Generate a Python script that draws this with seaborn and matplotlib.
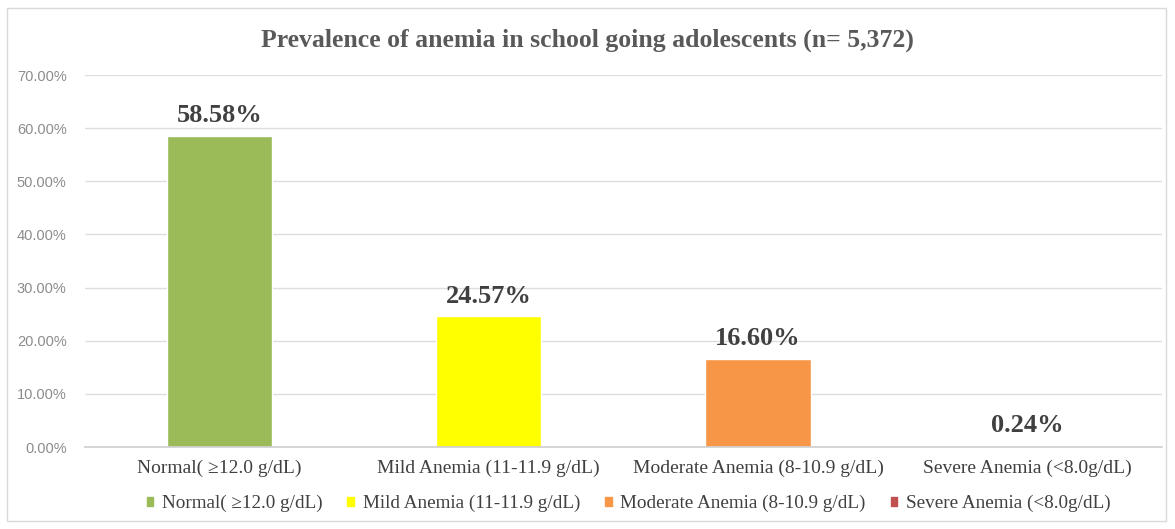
import matplotlib
matplotlib.use("Agg")
import matplotlib.pyplot as plt
import seaborn as sns
import pandas as pd
from matplotlib.patches import Rectangle
from matplotlib.ticker import FuncFormatter

categories = ["Normal( \u226512.0 g/dL)", "Mild Anemia (11-11.9 g/dL)",
              "Moderate Anemia (8-10.9 g/dL)", "Severe Anemia (<8.0g/dL)"]
values = [58.58, 24.57, 16.60, 0.24]
colors = ["#9BBB59", "#FFFF00", "#F79646", "#C0504D"]
title = "Prevalence of anemia in school going adolescents (n= 5,372)"

df = pd.DataFrame({"cat": categories, "val": values})

sns.set_theme(style="white")
plt.rcParams['font.family'] = ['Liberation Serif', 'DejaVu Serif']

fig = plt.figure(figsize=(11.75, 5.29), dpi=100)
ax = fig.add_axes([0.072, 0.155, 0.917, 0.703])

sns.barplot(data=df, x="cat", y="val", hue="cat", palette=colors,
            width=0.39, ax=ax, legend=False, saturation=1)

ax.set_ylim(0, 70)
ax.set_yticks(range(0, 71, 10))
ax.yaxis.set_major_formatter(FuncFormatter(lambda v, p: f"{v:.2f}%"))
for lab in ax.get_yticklabels():
    lab.set_fontfamily(['Liberation Sans', 'DejaVu Sans'])
    lab.set_fontsize(10.5)
    lab.set_color("#8c8c8c")
ax.tick_params(axis='y', length=0, pad=13)
ax.tick_params(axis='x', length=0, pad=9, labelsize=14, colors="#404040")
ax.grid(axis='y', color="#dedede", linewidth=1)
ax.set_axisbelow(True)
for s in ["top", "right", "left"]:
    ax.spines[s].set_visible(False)
ax.spines["bottom"].set_color("#d0d0d0")
ax.set_xlabel("")
ax.set_ylabel("")

for i, v in enumerate(values):
    ax.text(i, v + 1.6, f"{v:.2f}%", ha="center", va="bottom",
            fontsize=19, fontweight="bold", color="#404040")

fig.text(0.5, 0.924, title, ha="center", va="center", fontsize=18.5,
         fontweight="bold", color="#595959")

handles = [Rectangle((0, 0), 1, 1, color=c) for c in colors]
fig.legend(handles, categories, loc="center", bbox_to_anchor=(0.535, 0.048),
           ncol=4, frameon=False, fontsize=13.8, handlelength=0.35,
           handleheight=0.35, handletextpad=0.45, columnspacing=1.3,
           labelcolor="#404040")

fig.add_artist(Rectangle((0.006, 0.015), 0.986, 0.97, transform=fig.transFigure,
                         fill=False, edgecolor="#d9d9d9", linewidth=1))

fig.savefig("out.png", dpi=100, facecolor="white")
